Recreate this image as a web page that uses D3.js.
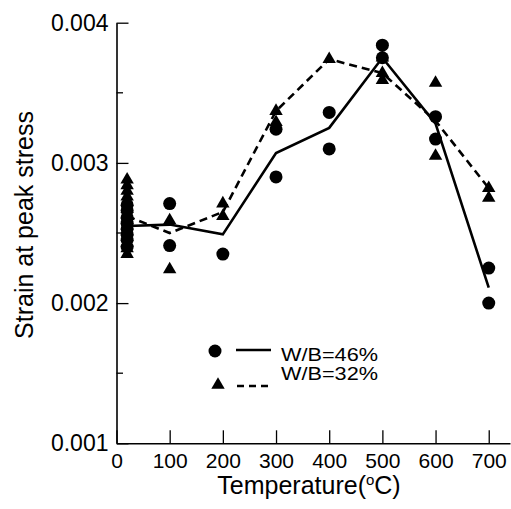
<!DOCTYPE html>
<html>
<head>
<meta charset="utf-8">
<script src="https://cdn.jsdelivr.net/npm/d3@7"></script>
<style>
  html, body { margin: 0; padding: 0; background: #fff; }
  svg { display: block; font-family: 'Liberation Sans', Arial, sans-serif; }
</style>
</head>
<body>
<svg id="chart" width="511" height="509"></svg>
<script>
// mean curves
var lineTemps = [20, 100, 200, 300, 400, 500, 600, 700]
var meanW46 = [0.00255, 0.00256, 0.00249, 0.00307, 0.00325, 0.00375, 0.00328, 0.00211]
var meanW32 = [0.00262, 0.00250, 0.00265, 0.00337, 0.00374, 0.00364, 0.00330, 0.00282]

// individual tests [temperature, strain]
var pointsW46 = [
  [20, 0.00270], [20, 0.00266], [20, 0.00261], [20, 0.00257], [20, 0.00253], [20, 0.00249], [20, 0.00245], [20, 0.00240],
  [100, 0.00271], [100, 0.00241],
  [200, 0.00235],
  [300, 0.00324], [300, 0.00290],
  [400, 0.00336], [400, 0.00310],
  [500, 0.00384], [500, 0.00375],
  [600, 0.00333], [600, 0.00317],
  [700, 0.00225], [700, 0.00200]
]
var pointsW32 = [
  [20, 0.00288], [20, 0.00284], [20, 0.00280], [20, 0.00276], [20, 0.00272], [20, 0.00267], [20, 0.00263],
  [20, 0.00259], [20, 0.00255], [20, 0.00251], [20, 0.00247], [20, 0.00243], [20, 0.00239], [20, 0.00235],
  [100, 0.00259], [100, 0.00224],
  [200, 0.00271], [200, 0.00262],
  [300, 0.00337], [300, 0.00329],
  [400, 0.00374],
  [500, 0.00375], [500, 0.00364], [500, 0.00359],
  [600, 0.00357], [600, 0.00305],
  [700, 0.00282], [700, 0.00275]
]

var xTicks = [0, 100, 200, 300, 400, 500, 600, 700]
var yTicks = [0.001, 0.002, 0.003, 0.004]
var yMinorTicks = [0.0015, 0.0025, 0.0035]
var seriesNames = ['W/B=46%', 'W/B=32%']

var svg = d3.select('#chart')

var x = d3.scaleLinear().domain([0, 740]).range([116.5, 510])
var y = d3.scaleLinear().domain([0.001, 0.004]).range([443.3, 22.7])

// x axis, ticks pointing up into the plot
var xAxis = svg.append('g')
  .attr('transform', 'translate(0,443.3)')
  .call(d3.axisBottom(x).tickValues(xTicks).tickSize(-13).tickSizeOuter(0).tickPadding(10).tickFormat(d3.format('d')))
xAxis.select('.domain').attr('stroke', '#000').attr('stroke-width', 1.6)
xAxis.selectAll('.tick line').attr('stroke', '#000').attr('stroke-width', 1.3)
xAxis.selectAll('.tick text')
  .attr('fill', '#000')
  .attr('font-size', 21)
  .attr('font-family', "'Liberation Sans', Arial, sans-serif")

// y axis, ticks pointing right
var yAxis = svg.append('g')
  .attr('transform', 'translate(116.5,0)')
  .call(d3.axisLeft(y).tickValues(yTicks).tickSize(-12).tickSizeOuter(0).tickPadding(8).tickFormat(d3.format('.3f')))
yAxis.select('.domain').attr('stroke', '#000').attr('stroke-width', 1.6)
yAxis.selectAll('.tick line').attr('stroke', '#000').attr('stroke-width', 1.3)
yAxis.selectAll('.tick text')
  .attr('fill', '#000')
  .attr('font-size', 23)
  .attr('x', -8)
  .attr('font-family', "'Liberation Sans', Arial, sans-serif")

svg.append('g')
  .selectAll('line')
  .data(yMinorTicks)
  .enter().append('line')
  .attr('x1', 116.5)
  .attr('x2', 123)
  .attr('y1', function(d) { return y(d) })
  .attr('y2', function(d) { return y(d) })
  .attr('stroke', '#000')
  .attr('stroke-width', 1.3)

// axis titles
svg.append('text')
  .attr('transform', 'translate(33,225) rotate(-90)')
  .attr('text-anchor', 'middle')
  .attr('font-size', 25)
  .text('Strain at peak stress')

var xTitle = svg.append('text')
  .attr('x', 309)
  .attr('y', 494)
  .attr('text-anchor', 'middle')
  .attr('font-size', 25)
xTitle.append('tspan').text('Temperature(')
xTitle.append('tspan').attr('font-size', 15).attr('dy', -9).text('o')
xTitle.append('tspan').attr('dy', 9).text('C)')

// mean lines
var line = d3.line()
  .x(function(d) { return x(d[0]) })
  .y(function(d) { return y(d[1]) })

svg.append('path')
  .datum(d3.zip(lineTemps, meanW46))
  .attr('d', line)
  .attr('fill', 'none')
  .attr('stroke', '#000')
  .attr('stroke-width', 2.6)

svg.append('path')
  .datum(d3.zip(lineTemps, meanW32))
  .attr('d', line)
  .attr('fill', 'none')
  .attr('stroke', '#000')
  .attr('stroke-width', 2.6)
  .style('stroke-dasharray', '8,5')

// markers
var triangle = d3.symbol().type(d3.symbolTriangle).size(78)

svg.append('g')
  .selectAll('circle')
  .data(pointsW46)
  .enter().append('circle')
  .attr('cx', function(d) { return x(d[0]) })
  .attr('cy', function(d) { return y(d[1]) })
  .attr('r', 6.5)
  .attr('fill', '#000')

svg.append('g')
  .selectAll('path')
  .data(pointsW32)
  .enter().append('path')
  .attr('d', triangle)
  .attr('transform', function(d) { return 'translate(' + x(d[0]) + ',' + y(d[1]) + ')' })
  .attr('fill', '#000')

// legend
var legend = svg.append('g')

legend.append('circle')
  .attr('cx', 215)
  .attr('cy', 351)
  .attr('r', 6.5)
  .attr('fill', '#000')
legend.append('line')
  .attr('x1', 236).attr('x2', 271)
  .attr('y1', 350).attr('y2', 350)
  .attr('stroke', '#000')
  .attr('stroke-width', 2.4)
legend.append('text')
  .attr('x', 281)
  .attr('y', 361)
  .attr('font-size', 19)
  .attr('textLength', 97)
  .attr('lengthAdjust', 'spacingAndGlyphs')
  .text(seriesNames[0])

legend.append('path')
  .attr('d', triangle)
  .attr('transform', 'translate(218,385)')
  .attr('fill', '#000')
legend.append('line')
  .attr('x1', 237).attr('x2', 272)
  .attr('y1', 386).attr('y2', 386)
  .attr('stroke', '#000')
  .attr('stroke-width', 2.4)
  .style('stroke-dasharray', '7,5')
legend.append('text')
  .attr('x', 281)
  .attr('y', 380)
  .attr('font-size', 19)
  .attr('textLength', 97)
  .attr('lengthAdjust', 'spacingAndGlyphs')
  .text(seriesNames[1])
</script>
</body>
</html>
